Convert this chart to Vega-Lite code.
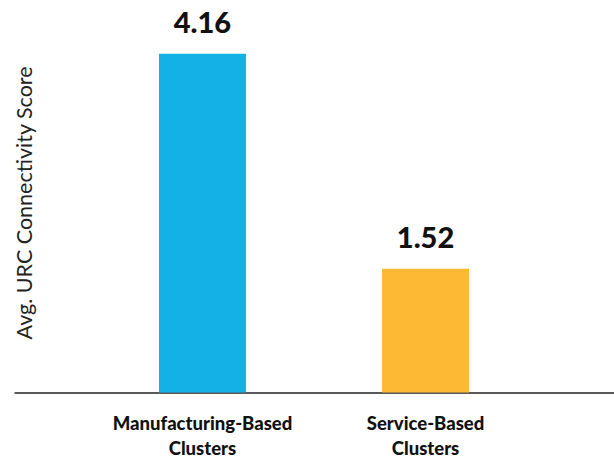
{
  "$schema": "https://vega.github.io/schema/vega-lite/v6.json",
  "width": 600,
  "height": 391,
  "autosize": {"type": "none"},
  "padding": {"left": 14, "top": 1.5, "right": 0, "bottom": 66},
  "background": "white",
  "config": {"view": {"stroke": null}, "font": "Lato"},
  "data": {
    "values": [
      {"cluster": "Manufacturing-Based Clusters", "score": 4.16},
      {"cluster": "Service-Based Clusters", "score": 1.52}
    ]
  },
  "encoding": {
    "x": {
      "field": "cluster",
      "type": "nominal",
      "sort": null,
      "scale": {"paddingInner": 0.61, "paddingOuter": 0.65},
      "axis": {
        "title": null,
        "labelAngle": 0,
        "labelExpr": "split(datum.label, ' ')",
        "labelFont": "Lato",
        "labelFontWeight": 900,
        "labelFontSize": 18.5,
        "labelColor": "#111111",
        "labelLineHeight": 25,
        "labelPadding": 22,
        "labelLimit": 0,
        "labelOverlap": false,
        "ticks": false,
        "domainColor": "#222222",
        "domainWidth": 1.5
      }
    },
    "y": {
      "field": "score",
      "type": "quantitative",
      "scale": {"domain": [0, 4.8], "nice": false},
      "axis": {
        "title": "Avg. URC Connectivity Score",
        "titleFont": "Lato",
        "titleFontWeight": "normal",
        "titleFontSize": 21.5,
        "titleColor": "#222222",
        "titleAngle": -90,
        "titleX": 22,
        "titleY": 201,
        "titleAlign": "center",
        "titleBaseline": "bottom",
        "titleLimit": 0,
        "labels": false,
        "ticks": false,
        "domain": false,
        "grid": false
      }
    }
  },
  "layer": [
    {
      "mark": {"type": "bar"},
      "encoding": {
        "color": {
          "field": "cluster",
          "type": "nominal",
          "scale": {"domain": ["Manufacturing-Based Clusters", "Service-Based Clusters"], "range": ["#14B1E7", "#FDB933"]},
          "legend": null
        }
      }
    },
    {
      "mark": {"type": "text", "baseline": "alphabetic", "dy": -21, "font": "Lato", "fontWeight": 900, "fontSize": 29, "color": "#111111"},
      "encoding": {
        "text": {"field": "score", "type": "quantitative", "format": ".2f"}
      }
    }
  ]
}
